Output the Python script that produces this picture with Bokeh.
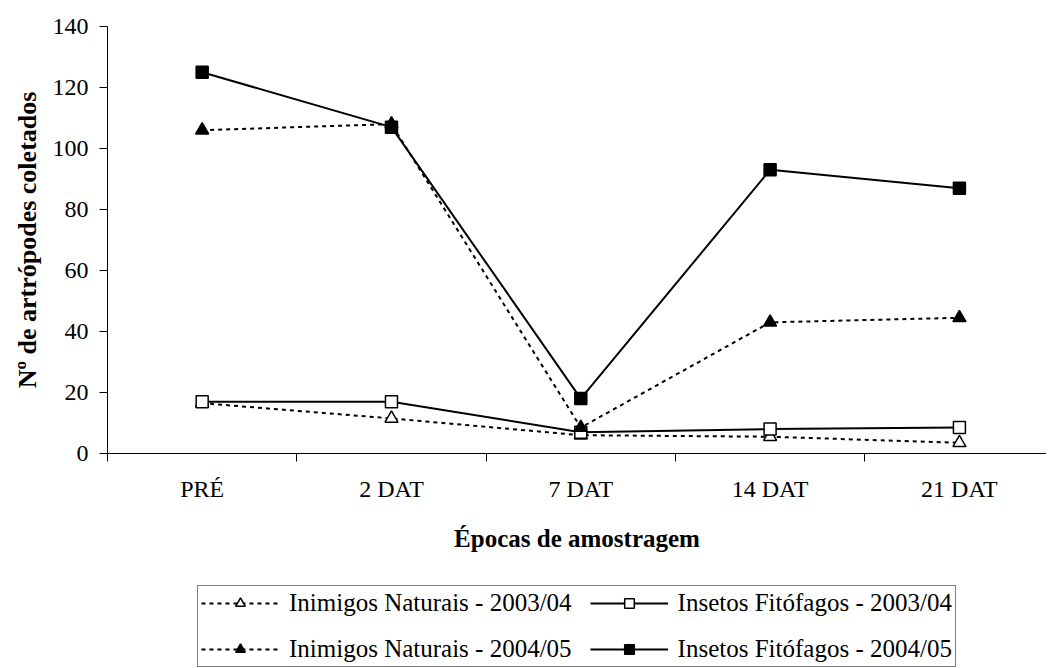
from bokeh.plotting import figure
from bokeh.models import Range1d, FixedTicker, Legend, LegendItem
from bokeh.layouts import column
from bokeh.embed import file_html
from bokeh.resources import INLINE

categories = ["PRÉ", "2 DAT", "7 DAT", "14 DAT", "21 DAT"]
inimigos_2003 = [16.5, 11.5, 6.0, 5.5, 3.5]
insetos_2003 = [17.0, 17.0, 7.0, 8.0, 8.5]
inimigos_2004 = [106.0, 108.0, 8.5, 43.0, 44.5]
insetos_2004 = [125.0, 107.0, 18.0, 93.0, 87.0]
y_ticks = [0, 20, 40, 60, 80, 100, 120, 140]
series_labels = ["Inimigos Naturais - 2003/04", "Insetos Fitófagos - 2003/04",
                 "Inimigos Naturais - 2004/05", "Insetos Fitófagos - 2004/05"]

FONT = "Liberation Serif"
x = list(range(len(categories)))

p = figure(width=1046, height=570, output_backend="svg", toolbar_location=None,
           x_range=Range1d(-0.5, 4.46), y_range=Range1d(0, 140),
           min_border_left=107, min_border_right=0, min_border_top=26,
           min_border_bottom=117)
p.outline_line_color = None
p.xgrid.visible = False
p.ygrid.visible = False

# y axis
p.yaxis.ticker = FixedTicker(ticks=y_ticks)
p.yaxis.minor_tick_line_color = None
p.yaxis.major_tick_in = 0
p.yaxis.major_tick_out = 8
p.yaxis.axis_line_color = "black"
p.yaxis.major_label_text_font = FONT
p.yaxis.major_label_text_font_size = "24px"
p.yaxis.major_label_text_color = "black"
p.yaxis.major_label_standoff = 11
p.yaxis.axis_label = "Nº de artrópodes coletados"
p.yaxis.axis_label_text_font = FONT
p.yaxis.axis_label_text_font_style = "bold"
p.yaxis.axis_label_text_font_size = "26px"
p.yaxis.axis_label_text_color = "black"
p.yaxis.axis_label_standoff = 8

# x axis: labels at category centres, ticks at category boundaries
p.xaxis.ticker = FixedTicker(ticks=x, minor_ticks=[i - 0.5 for i in range(len(categories) + 1)])
p.xaxis.major_label_overrides = {i: c for i, c in enumerate(categories)}
p.xaxis.major_tick_line_color = None
p.xaxis.minor_tick_in = 0
p.xaxis.minor_tick_out = 8
p.xaxis.minor_tick_line_color = "black"
p.xaxis.major_label_text_font = FONT
p.xaxis.major_label_text_font_size = "24px"
p.xaxis.major_label_text_color = "black"
p.xaxis.major_label_standoff = 14
p.xaxis.axis_label = "Épocas de amostragem"
p.xaxis.axis_label_text_font = FONT
p.xaxis.axis_label_text_font_style = "bold"
p.xaxis.axis_label_text_font_size = "25px"
p.xaxis.axis_label_text_color = "black"
p.xaxis.axis_label_standoff = 20

LW = 2
styles = [
    dict(data=inimigos_2003, dash="4 4", marker="triangle", fill="white", size=13),
    dict(data=insetos_2003, dash="solid", marker="square", fill="white", size=12),
    dict(data=inimigos_2004, dash="4 4", marker="triangle", fill="black", size=13),
    dict(data=insetos_2004, dash="solid", marker="square", fill="black", size=12),
]
for s in styles:
    p.line(x, s["data"], line_color="black", line_width=LW, line_dash=s["dash"])
    p.scatter(x, s["data"], marker=s["marker"], size=s["size"], fill_color=s["fill"],
              line_color="black", line_width=1.5)

# legend panel (separate figure below the chart; its frame is aligned with the chart's)
lg = figure(width=1046, height=98, output_backend="svg", toolbar_location=None,
            x_range=Range1d(0, 1), y_range=Range1d(0, 1),
            x_axis_location=None, y_axis_location=None,
            min_border_left=107, min_border_right=0, min_border_top=0, min_border_bottom=0)
lg.outline_line_color = None
lg.xgrid.visible = False
lg.ygrid.visible = False
items = {}
for s, lab in zip(styles, series_labels):
    # legend-key renderers: placed outside the visible range, only their styling is shown
    rl = lg.line([-5, -4], [-5, -5], line_color="black", line_width=LW, line_dash=s["dash"])
    rm = lg.scatter([-5], [-5], marker=s["marker"], fill_color=s["fill"],
                    line_color="black", line_width=1.5)
    items[lab] = LegendItem(label=lab, renderers=[rl, rm])

# column-major fill: column 1 = Inimigos, column 2 = Insetos
order = [series_labels[0], series_labels[2], series_labels[1], series_labels[3]]
legend = Legend(items=[items[k] for k in order], ncols=2, location=(90, 1))
legend.label_text_font = FONT
legend.label_text_font_size = "25px"
legend.label_text_color = "black"
legend.glyph_width = 78
legend.glyph_height = 24
legend.label_height = 24
legend.label_standoff = 10
legend.spacing = 18
legend.padding = 3
legend.margin = 0
legend.border_line_color = "black"
legend.border_line_width = 1
legend.background_fill_alpha = 1
lg.add_layout(legend, "center")

layout = column(p, lg, spacing=0)
open("out.html", "w").write(file_html(layout, INLINE))
